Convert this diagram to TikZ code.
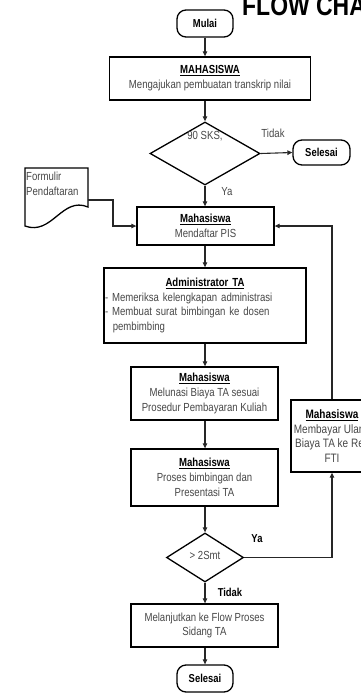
\documentclass[tikz,border=0pt]{standalone}
\usepackage{fontspec}
\setmainfont{Liberation Sans}[FakeStretch=0.82]
\usetikzlibrary{shapes.geometric,arrows.meta}
\newcommand\hdr[1]{\textcolor{black}{\underline{\textbf{#1}}}}
\begin{document}
\begin{tikzpicture}[x=1pt,y=-1pt,
  txt/.style={font=\fontsize{11.7}{14.8}\selectfont, text=black!72},
  box/.style={draw, line width=1.3pt, rectangle, inner sep=1pt, align=center, txt},
  term/.style={draw, line width=1.3pt, rounded corners=9pt, inner sep=0pt, font=\bfseries\fontsize{11.5}{12}\selectfont},
  dec/.style={draw, diamond, line width=1.3pt, inner sep=0pt},
  conn/.style={line width=1.1pt, draw=black!85, -{Triangle[length=5pt,width=4.5pt]}},
  lbl/.style={txt, inner sep=0pt},
  blbl/.style={font=\bfseries\fontsize{11.5}{12}\selectfont, inner sep=0pt}]
\useasboundingbox (0,0) rectangle (361,694);
\clip (0,0) rectangle (361,694);

\node[anchor=base west, font=\bfseries\fontsize{28}{28}\selectfont, inner sep=0pt] (title) at (242,15) {FLOW CHART};

\node[term, minimum width=56pt, minimum height=27pt] (start) at (205,23.5) {Mulai};
\node[box, minimum width=201pt, minimum height=43pt] (b1) at (210,78.5) {\hdr{MAHASISWA}\\Mengajukan pembuatan transkrip nilai};
\node[dec, minimum width=110pt, minimum height=63pt] (d1) at (205,153.5) {};
\node[lbl] (d1t) at (205,136) {90 SKS,};
\node[term, minimum width=57pt, minimum height=25pt] (sel1) at (321.5,152.5) {Selesai};
\node[lbl] (tdk1) at (273,133) {Tidak};
\node[lbl] (ya1) at (227,192) {Ya};

\node[box, minimum width=137pt, minimum height=38pt] (b2) at (205.5,226) {\hdr{Mahasiswa}\\Mendaftar PIS};

\draw[line width=1.3pt] (25,168) -- (88,168) -- (88,207) .. controls (62,196) and (52,236) .. (25,226) -- cycle;
\node[lbl, anchor=north west, align=left, font=\fontsize{11.7}{15}\selectfont] (doc) at (26,172) {Formulir\\Pendaftaran};
\coordinate (docR) at (88,200);

\node[box, minimum width=202pt, minimum height=75pt, text width=200pt, inner sep=0pt, align=left] (b3) at (205,305.5)
 {\makebox[\linewidth][c]{\hdr{Administrator TA}}\\- Memeriksa kelengkapan administrasi\\- Membuat\ surat\ bimbingan ke dosen\\\ \ pembimbing};

\node[box, minimum width=147pt, minimum height=53pt] (b4) at (204.5,393.5) {\hdr{Mahasiswa}\\Melunasi Biaya TA sesuai\\Prosedur Pembayaran Kuliah};
\node[box, minimum width=147pt, minimum height=57pt] (b5) at (204.5,477.5) {\hdr{Mahasiswa}\\Proses bimbingan dan\\Presentasi TA};
\node[box, minimum width=82pt, minimum height=72pt, font=\fontsize{12.2}{14.8}\selectfont] (b6) at (332,436) {\hdr{Mahasiswa}\\Membayar Ulang\\Biaya TA ke Rek\\FTI};

\node[dec, minimum width=77pt, minimum height=49pt] (d2) at (205,557.5) {};
\node[lbl] (d2t) at (205,555) {> 2Smt};
\node[blbl] (ya2) at (257,539) {Ya};
\node[blbl] (tdk2) at (230,592) {Tidak};

\node[box, minimum width=147pt, minimum height=43pt] (b7) at (204.5,625.5) {Melanjutkan ke Flow Proses\\Sidang TA};
\node[term, minimum width=56pt, minimum height=27pt] (sel2) at (205,678.5) {Selesai};

\draw[conn] (start.south) -- (start.south |- b1.north);
\draw[conn] (start.south |- b1.south) -- (d1.north);
\draw[conn] (d1.east) -- (sel1.west);
\draw[conn] (d1.south) -- (d1.south |- b2.north);
\draw[conn] (docR) -- ++(25,0) |- (b2.west);
\draw[conn] (b6.north) |- (b2.east);
\draw[conn] (d1.south |- b2.south) -- (d1.south |- b3.north);
\draw[conn] (d1.south |- b3.south) -- (d1.south |- b4.north);
\draw[conn] (d1.south |- b4.south) -- (d1.south |- b5.north);
\draw[conn] (d1.south |- b5.south) -- (d2.north);
\draw[conn] (d2.east) -| (b6.south);
\draw[conn] (d2.south) -- (d2.south |- b7.north);
\draw[conn] (d2.south |- b7.south) -- (sel2.north);
\end{tikzpicture}
\end{document}
